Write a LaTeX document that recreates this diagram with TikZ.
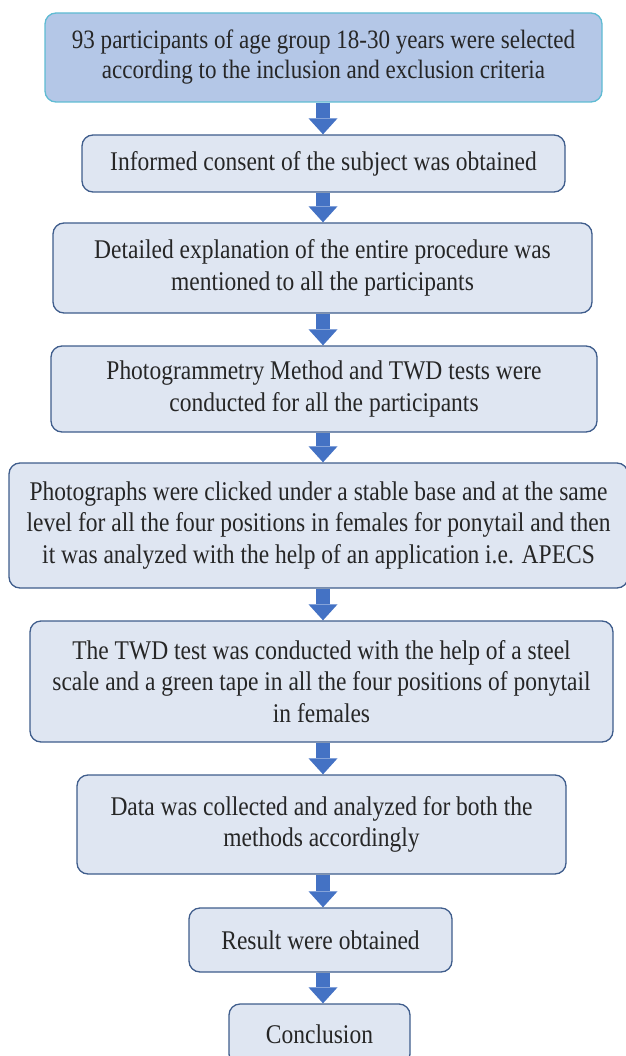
\documentclass[tikz,border=0pt]{standalone}
\usepackage{fontspec}
\setmainfont{Liberation Serif}[FakeStretch=0.87]
\usetikzlibrary{arrows.meta}
\definecolor{headfill}{HTML}{B4C7E7}
\definecolor{headline}{HTML}{5FBBD3}
\definecolor{stepfill}{HTML}{DFE6F2}
\definecolor{stepline}{HTML}{3F5D8C}
\definecolor{flowblue}{HTML}{4472C4}
\tikzset{
  step box/.style={
    rounded corners=11pt,
    draw=stepline,
    line width=1.3pt,
    fill=stepfill,
    align=center,
    text=black!85,
    inner sep=0pt,
    font=\fontsize{27}{31.5}\selectfont,
  },
  head box/.style={
    step box,
    draw=headline,
    fill=headfill,
    font=\fontsize{26.5}{30}\selectfont,
  },
  flow/.style={
    draw=flowblue,
    line width=14pt,
    -{Triangle[width=29pt, length=16pt, line width=0pt]},
    flowblue,
  },
}
\begin{document}
\begin{tikzpicture}[x=1pt, y=-1pt]
      \useasboundingbox (0,0) rectangle (625,1056);
      \coordinate (axis) at (323,0);

      \node[head box, minimum width=557pt, minimum height=89pt] (select) at (323.5,57.5)
        {93 participants of age group 18-30 years were selected\\according to the inclusion and exclusion criteria};
      \node[step box, minimum width=483pt, minimum height=57pt] (consent) at (323.5,163.5)
        {Informed consent of the subject was obtained};
      \node[step box, minimum width=539pt, minimum height=90pt] (explain) at (322.5,268)
        {Detailed explanation of the entire procedure was\\mentioned to all the participants};
      \node[step box, minimum width=546pt, minimum height=86pt] (tests) at (324,389)
        {Photogrammetry Method and TWD tests were\\conducted for all the participants};
      \node[step box, minimum width=619pt, minimum height=125pt] (photos) at (318.5,525.5)
        {Photographs were clicked under a stable base and at the same\\level for all the four positions in females for ponytail and then\\it was analyzed with the help of an application i.e. APECS};
      \node[step box, minimum width=583pt, minimum height=121pt] (twd) at (321.5,681.5)
        {The TWD test was conducted with the help of a steel\\scale and a green tape in all the four positions of ponytail\\in females};
      \node[step box, minimum width=489pt, minimum height=99pt] (data) at (321.5,824.5)
        {Data was collected and analyzed for both the\\methods accordingly};
      \node[step box, minimum width=263pt, minimum height=64pt] (result) at (320.5,940)
        {Result were obtained};
      \node[step box, minimum width=181pt, minimum height=61pt] (concl) at (319.5,1034.5)
        {Conclusion};

      \path[flow] (axis |- select.south)  -- (axis |- consent.north);
      \path[flow] (axis |- consent.south) -- (axis |- explain.north);
      \path[flow] (axis |- explain.south) -- (axis |- tests.north);
      \path[flow] (axis |- tests.south)   -- (axis |- photos.north);
      \path[flow] (axis |- photos.south)  -- (axis |- twd.north);
      \path[flow] (axis |- twd.south)     -- (axis |- data.north);
      \path[flow] (axis |- data.south)    -- (axis |- result.north);
      \path[flow] (axis |- result.south)  -- (axis |- concl.north);
    \end{tikzpicture}
\end{document}
